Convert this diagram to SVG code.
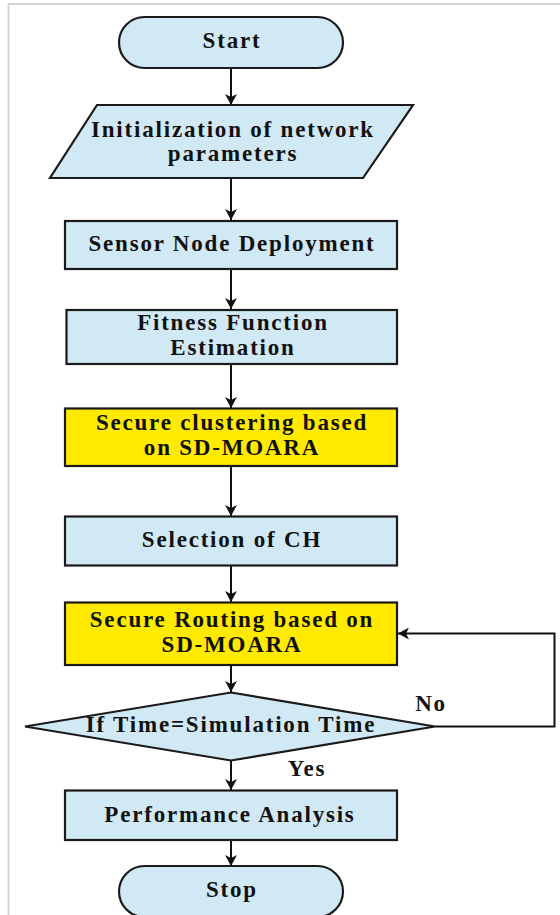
<svg xmlns="http://www.w3.org/2000/svg" width="560" height="915" viewBox="0 0 560 915">
<style>
.box{fill:#d1e9f5;stroke:#1a1a1a;stroke-width:2.2}
.yel{fill:#ffea00;stroke:#1a1a1a;stroke-width:2.2}
.t{font-family:"Liberation Serif","Times New Roman",serif;font-weight:bold;font-size:23px;letter-spacing:1.8px;fill:#111;text-anchor:middle}
.c{fill:none;stroke:#111;stroke-width:2}
</style>
<defs>
<marker id="ah" markerWidth="12" markerHeight="12" refX="11" refY="6" orient="auto" markerUnits="userSpaceOnUse">
<path d="M0,0 L11,6 L0,12 L3,6 Z" fill="#111"/>
</marker>
</defs>
<rect width="560" height="915" fill="#fff"/>
<path d="M8.5,915 V4 H560" fill="none" stroke="#d3d3d3" stroke-width="1.8"/>
<g id="connectors">
<line class="c" x1="231" y1="68" x2="231" y2="105" marker-end="url(#ah)"/>
<line class="c" x1="231" y1="178" x2="231" y2="220" marker-end="url(#ah)"/>
<line class="c" x1="231" y1="269" x2="231" y2="309" marker-end="url(#ah)"/>
<line class="c" x1="231" y1="364" x2="231" y2="408" marker-end="url(#ah)"/>
<line class="c" x1="231" y1="466" x2="231" y2="516" marker-end="url(#ah)"/>
<line class="c" x1="231" y1="566" x2="231" y2="602" marker-end="url(#ah)"/>
<line class="c" x1="231" y1="665" x2="231" y2="692" marker-end="url(#ah)"/>
<line class="c" x1="231" y1="761" x2="231" y2="790" marker-end="url(#ah)"/>
<line class="c" x1="231" y1="840" x2="231" y2="866" marker-end="url(#ah)"/>
<path class="c" d="M435,726.5 H554.5 V633.5 H398" marker-end="url(#ah)"/>
<text class="t" x="431" y="711">No</text>
<text class="t" x="307" y="776">Yes</text>
</g>
<g id="start">
<rect class="box" x="119" y="17" width="224" height="51" rx="25.5"/>
<text class="t" x="232" y="48">Start</text>
</g>
<g id="init">
<polygon class="box" points="97,105 413,105 363,178 50,178"/>
<text class="t" x="233" y="137">Initialization of network</text>
<text class="t" x="233" y="161">parameters</text>
</g>
<g id="deploy">
<rect class="box" x="65" y="221" width="332" height="48"/>
<text class="t" x="232" y="251">Sensor Node Deployment</text>
</g>
<g id="fitness">
<rect class="box" x="66.5" y="310" width="330.5" height="54"/>
<text class="t" x="233" y="330">Fitness Function</text>
<text class="t" x="233" y="355">Estimation</text>
</g>
<g id="clustering">
<rect class="yel" x="65" y="408.5" width="332" height="57.5"/>
<text class="t" x="232" y="430">Secure clustering based</text>
<text class="t" x="232" y="455">on SD-MOARA</text>
</g>
<g id="selection">
<rect class="box" x="65" y="516.5" width="332" height="49"/>
<text class="t" x="232" y="547">Selection of CH</text>
</g>
<g id="routing">
<rect class="yel" x="65" y="602.5" width="332" height="62.5"/>
<text class="t" x="232" y="627">Secure Routing based on</text>
<text class="t" x="232" y="652">SD-MOARA</text>
</g>
<g id="decision">
<polygon class="box" points="231,692.5 435,726.5 231,760.5 25,726.5"/>
<text class="t" x="231" y="732">If Time=Simulation Time</text>
</g>
<g id="performance">
<rect class="box" x="65" y="790.5" width="332" height="49.5"/>
<text class="t" x="230" y="822">Performance Analysis</text>
</g>
<g id="stop">
<rect class="box" x="119" y="866" width="224" height="51" rx="25.5"/>
<text class="t" x="232" y="897">Stop</text>
</g>
</svg>
